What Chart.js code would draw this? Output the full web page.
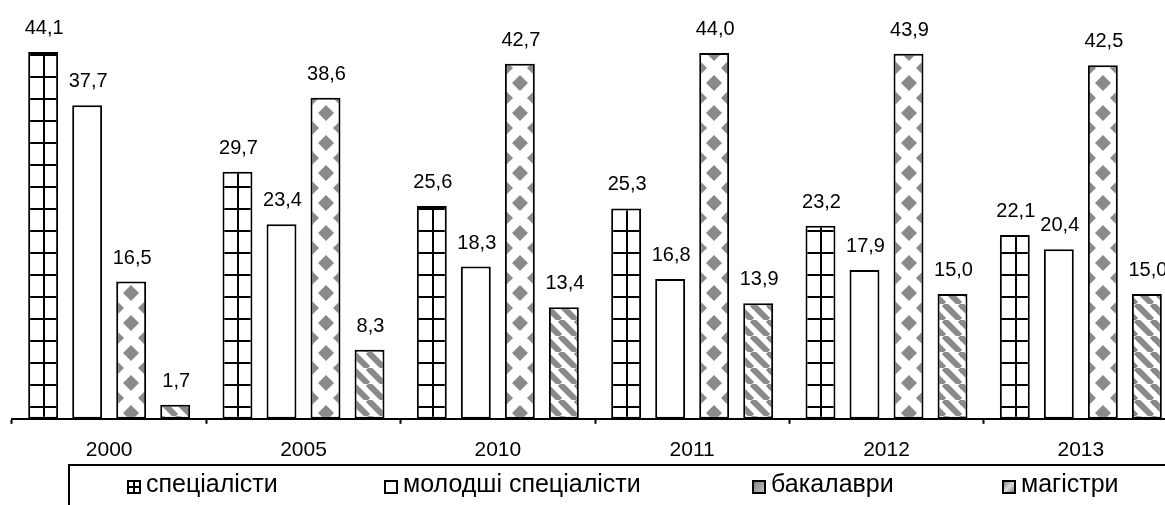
<!DOCTYPE html>
<html>
<head>
<meta charset="utf-8">
<script src="https://cdn.jsdelivr.net/npm/chart.js@4.4.1/dist/chart.umd.min.js"></script>
<style>
  html, body { margin: 0; padding: 0; background: #fff; overflow: hidden; }
  #wrap { width: 1180px; height: 505px; position: relative; }
</style>
</head>
<body>
<div id="wrap"><canvas id="chart"></canvas></div>
<script>
// years on the x axis
var years = ['2000', '2005', '2010', '2011', '2012', '2013'];

// shares by qualification level, %
var specialists = [44.1, 29.7, 25.6, 25.3, 23.2, 22.1];
var juniorSpecialists = [37.7, 23.4, 18.3, 16.8, 17.9, 20.4];
var bachelors = [16.5, 38.6, 42.7, 44.0, 43.9, 42.5];
var masters = [1.7, 8.3, 13.4, 13.9, 15.0, 15.0];

var seriesNames = ['спеціалісти', 'молодші спеціалісти', 'бакалаври', 'магістри'];

var FONT = '"Liberation Sans", Arial, sans-serif';
var CAT_PCT = 0.906;

var canvas = document.getElementById('chart');
var ctx = canvas.getContext('2d');

function makeTile(w, h, draw) {
    var c = document.createElement('canvas');
    c.width = w;
    c.height = h;
    var t = c.getContext('2d');
    t.fillStyle = '#fff';
    t.fillRect(0, 0, w, h);
    draw(t, w, h);
    return c;
}

// square grid, vertical line in the middle of the tile
var gridTile = makeTile(30, 22, function (t, w, h) {
    t.fillStyle = '#000';
    t.fillRect(15, 0, 2, h);
    t.fillRect(0, 10, w, 2);
});

// grey diamonds, one column in the middle of the tile
var diamondTile = makeTile(30, 30, function (t, w, h) {
    t.fillStyle = '#8a8a8a';
    var r = 8;
    [[15, 15], [0, 0], [30, 0], [0, 30], [30, 30]].forEach(function (p) {
        t.beginPath();
        t.moveTo(p[0], p[1] - r);
        t.lineTo(p[0] + r, p[1]);
        t.lineTo(p[0], p[1] + r);
        t.lineTo(p[0] - r, p[1]);
        t.closePath();
        t.fill();
    });
});

// wide downward diagonal
var stripeTile = makeTile(16, 16, function (t, w, h) {
    t.strokeStyle = '#8a8a8a';
    t.lineWidth = 6;
    for (var k = -1; k <= 1; k++) {
        t.beginPath();
        t.moveTo(k * w, 0);
        t.lineTo(k * w + w, h);
        t.stroke();
    }
});

var stripeFill = ctx.createPattern(stripeTile, 'repeat');

// pattern lined up with the bar it fills
function barPattern(tile, yShift) {
    return function (c) {
        var xs = c.chart.scales && c.chart.scales.x;
        if (!xs || xs.width === undefined) {
            return ctx.createPattern(tile, 'repeat');
        }
        var slot = xs.width / years.length * CAT_PCT / 4;
        var cx = xs.getPixelForValue(c.dataIndex) + (c.datasetIndex - 1.5) * slot;
        var p = ctx.createPattern(tile, 'repeat');
        p.setTransform(new DOMMatrix().translate(Math.round(cx) - 15, yShift));
        return p;
    };
}

var fills = [barPattern(gridTile, 0), '#ffffff', barPattern(diamondTile, 8), stripeFill];
var series = [specialists, juniorSpecialists, bachelors, masters];

var barLabels = {
    id: 'barLabels',
    afterDatasetsDraw: function (chart) {
        var c = chart.ctx;
        c.save();
        c.font = '20px ' + FONT;
        c.fillStyle = '#000';
        c.textAlign = 'center';
        c.textBaseline = 'alphabetic';
        chart.data.datasets.forEach(function (ds, i) {
            chart.getDatasetMeta(i).data.forEach(function (bar, j) {
                var txt = ds.data[j].toFixed(1).replace('.', ',');
                c.fillText(txt, bar.x + 1, bar.y - 18);
            });
        });
        c.restore();
    }
};

// legend in a box open to the right, like the original
var boxLegend = {
    id: 'boxLegend',
    afterDraw: function (chart) {
        var c = chart.ctx;
        var iconX = [127, 384, 752, 1002];
        c.save();
        c.strokeStyle = '#000';
        c.lineWidth = 2;
        c.beginPath();
        c.moveTo(69, 505);
        c.lineTo(69, 465);
        c.lineTo(chart.width, 465);
        c.stroke();

        // small icons
        var y0 = 480;
        c.fillStyle = '#fff';
        c.fillRect(iconX[0], y0, 14, 14);
        c.fillStyle = '#000';
        c.fillRect(iconX[0] + 6, y0, 2, 14);
        c.fillRect(iconX[0], y0 + 6, 14, 2);
        c.fillStyle = '#fff';
        c.fillRect(iconX[1], y0, 14, 14);
        var g = c.createLinearGradient(iconX[2], y0, iconX[2] + 14, y0 + 14);
        g.addColorStop(0, '#777');
        g.addColorStop(1, '#ccc');
        c.fillStyle = g;
        c.fillRect(iconX[2], y0, 14, 14);
        var g2 = c.createLinearGradient(iconX[3], y0, iconX[3] + 14, y0 + 14);
        g2.addColorStop(0, '#666');
        g2.addColorStop(0.5, '#ddd');
        g2.addColorStop(1, '#666');
        c.fillStyle = g2;
        c.fillRect(iconX[3], y0, 14, 14);

        c.font = '25px ' + FONT;
        c.textBaseline = 'alphabetic';
        c.textAlign = 'left';
        seriesNames.forEach(function (name, i) {
            c.lineWidth = 2;
            c.strokeStyle = '#000';
            c.strokeRect(iconX[i] + 1, y0 + 1, 12, 12);
            c.fillStyle = '#000';
            c.fillText(name, iconX[i] + 19, 492);
        });
        c.restore();
    }
};

new Chart(ctx, {
    type: 'bar',
    data: {
        labels: years,
        datasets: series.map(function (d, i) {
            return {
                label: seriesNames[i],
                data: d,
                backgroundColor: fills[i],
                borderColor: '#000',
                borderWidth: 2,
                borderSkipped: false,
                categoryPercentage: CAT_PCT,
                barPercentage: 0.68
            };
        })
    },
    options: {
        responsive: true,
        maintainAspectRatio: false,
        animation: false,
        events: [],
        layout: {
            padding: { left: 12, right: 2, top: 3, bottom: 28 }
        },
        scales: {
            x: {
                grid: {
                    drawOnChartArea: false,
                    tickLength: 5,
                    tickWidth: 2,
                    tickColor: '#000'
                },
                border: { color: '#000', width: 2 },
                ticks: {
                    color: '#000',
                    padding: 14,
                    font: { size: 21, family: FONT }
                }
            },
            y: {
                display: false,
                min: 0,
                max: 50
            }
        },
        plugins: {
            legend: { display: false },
            tooltip: { enabled: false }
        }
    },
    plugins: [barLabels, boxLegend]
});
</script>
</body>
</html>
